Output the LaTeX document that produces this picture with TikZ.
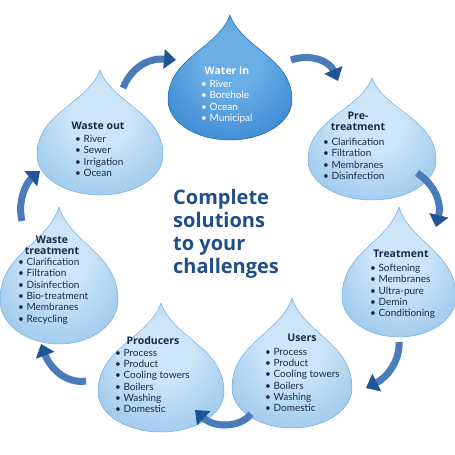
\documentclass[tikz,border=0pt]{standalone}
\usepackage{fontspec}
\setmainfont{Lato}
\newfontfamily\heavyfont{Open Sans}
\usetikzlibrary{arrows.meta}
\definecolor{navy}{HTML}{1A2A48}
\definecolor{centerblue}{HTML}{1F4E8A}
\definecolor{arrowblue}{HTML}{4A7CBB}
\definecolor{arrowdark}{HTML}{1F5497}
\definecolor{dropA}{HTML}{CDE5F8}
\definecolor{dropB}{HTML}{99C7ED}
\definecolor{dropC}{HTML}{5E9DD8}
\definecolor{dropEdge}{HTML}{74ABDE}
\definecolor{wA}{HTML}{6AAEE6}
\definecolor{wB}{HTML}{3887D0}
\definecolor{wC}{HTML}{1A63B0}
\pgfdeclareradialshading{lightdrop}{\pgfpoint{0bp}{8bp}}{color(0bp)=(dropA); color(12bp)=(dropA); color(34bp)=(dropB); color(50bp)=(dropC); color(70bp)=(dropC)}
\pgfdeclareradialshading{darkdrop}{\pgfpoint{0bp}{8bp}}{color(0bp)=(wA); color(12bp)=(wA); color(34bp)=(wB); color(50bp)=(wC); color(70bp)=(wC)}
% #1 cx, #2 cy (widest line), #3 rx, #4 ry, #5 tip height above cy, #6 style
\newcommand\waterdrop[6]{%
  \shade[#6] (#1,#2-#5) .. controls (#1+0.2*#3,#2-0.6*#5) and (#1+#3,#2-0.5*#5) .. (#1+#3,#2)
    arc[start angle=0,end angle=180,x radius=#3,y radius=#4]
    .. controls (#1-#3,#2-0.5*#5) and (#1-0.2*#3,#2-0.6*#5) .. cycle;}
\begin{document}
\begin{tikzpicture}[x=1pt,y=-1pt,
  lightstyle/.style={shading=lightdrop,draw=dropEdge,line width=0.5pt},
  darkstyle/.style={shading=darkdrop,draw=wC,line width=0.5pt},
  ttl/.style={font=\heavyfont\bfseries\fontsize{10.5}{11.2}\selectfont,text=navy,align=center,inner sep=0pt},
  lst/.style={font=\fontsize{10}{11.3}\selectfont,text=navy,align=left,inner sep=0pt,anchor=north west},
  arr/.style={line width=7pt,draw=arrowblue,-{Triangle[length=12pt,width=19pt,color=arrowdark]}}]
\useasboundingbox (0,0) rectangle (455,455);
\fill[white] (0,0) rectangle (455,455);
% drops
\waterdrop{230}{100}{62}{40}{85}{darkstyle}
\waterdrop{372}{160}{64}{40}{82}{lightstyle}
\waterdrop{399}{297}{57}{40}{90}{lightstyle}
\waterdrop{292}{388}{60}{40}{90}{lightstyle}
\waterdrop{161}{392}{63}{40}{89}{lightstyle}
\waterdrop{59}{300}{59}{44}{93}{lightstyle}
\waterdrop{100}{155}{63}{40}{85}{lightstyle}
% texts
\node[ttl,text=white] (wiT) at (227,71) {Water in};
\node[lst,text=white] (wiL) at (201,80) {\textbullet\ River\\\textbullet\ Borehole\\\textbullet\ Ocean\\\textbullet\ Municipal};
\node[ttl] (ptT) at (358,121) {Pre-\\treatment};
\node[lst] (ptL) at (323,138) {\textbullet\ Clarification\\\textbullet\ Filtration\\\textbullet\ Membranes\\\textbullet\ Disinfection};
\node[ttl] (trT) at (401,254) {Treatment};
\node[lst] (trL) at (370,264) {\textbullet\ Softening\\\textbullet\ Membranes\\\textbullet\ Ultra-pure\\\textbullet\ Demin\\\textbullet\ Conditioning};
\node[ttl] (usT) at (302,338) {Users};
\node[lst] (usL) at (265,348) {\textbullet\ Process\\\textbullet\ Product\\\textbullet\ Cooling towers\\\textbullet\ Boilers\\\textbullet\ Washing\\\textbullet\ Domestic};
\node[ttl] (prT) at (153,341) {Producers};
\node[lst] (prL) at (115,349) {\textbullet\ Process\\\textbullet\ Product\\\textbullet\ Cooling towers\\\textbullet\ Boilers\\\textbullet\ Washing\\\textbullet\ Domestic};
\node[ttl] (wtT) at (52,245) {Waste\\treatment};
\node[lst] (wtL) at (18,258) {\textbullet\ Clarification\\\textbullet\ Filtration\\\textbullet\ Disinfection\\\textbullet\ Bio-treatment\\\textbullet\ Membranes\\\textbullet\ Recycling};
\node[ttl] (woT) at (98,126) {Waste out};
\node[lst] (woL) at (75,135) {\textbullet\ River\\\textbullet\ Sewer\\\textbullet\ Irrigation\\\textbullet\ Ocean};
\node[font=\heavyfont\bfseries\fontsize{20}{23}\selectfont,text=centerblue,align=left,inner sep=0pt,anchor=north west] (center) at (173,189) {Complete\\solutions\\to your\\challenges};
% arrow ends
\coordinate (a1s) at (123,88);  \coordinate (a1e) at (176,60);
\coordinate (a2s) at (291,60);  \coordinate (a2e) at (338,81);
\coordinate (a3s) at (417,173); \coordinate (a3e) at (436,227);
\coordinate (a4s) at (399,342); \coordinate (a4e) at (366,388);
\coordinate (a5s) at (251,414); \coordinate (a5e) at (195,410);
\coordinate (a6s) at (86,381);  \coordinate (a6e) at (41,344);
\coordinate (a7s) at (22,221);  \coordinate (a7e) at (40,171);
\draw[arr] (a1s) .. controls (133,64) and (152,58) .. (a1e);
\draw[arr] (a2s) .. controls (312,53) and (330,62) .. (a2e);
\draw[arr] (a3s) .. controls (434,184) and (442,202) .. (a3e);
\draw[arr] (a4s) .. controls (400,362) and (386,378) .. (a4e);
\draw[arr] (a5s) .. controls (240,428) and (214,428) .. (a5e);
\draw[arr] (a6s) .. controls (66,384) and (50,368) .. (a6e);
\draw[arr] (a7s) .. controls (17,200) and (27,182) .. (a7e);
\end{tikzpicture}
\end{document}
